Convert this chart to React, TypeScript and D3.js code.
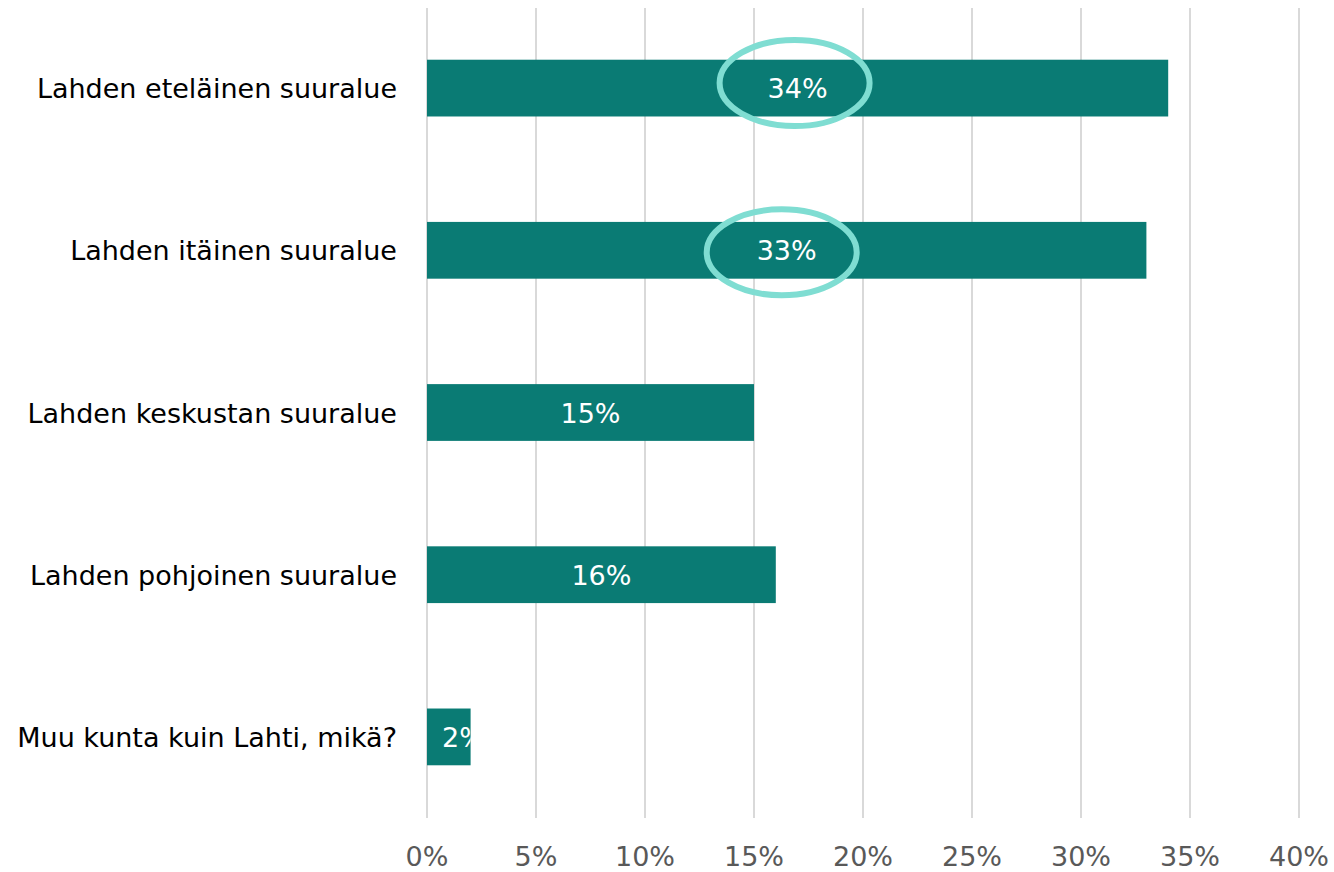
import React from "react";
import * as d3 from "d3";

const categories = [
  "Lahden eteläinen suuralue",
  "Lahden itäinen suuralue",
  "Lahden keskustan suuralue",
  "Lahden pohjoinen suuralue",
  "Muu kunta kuin Lahti, mikä?",
];
const values = [34, 33, 15, 16, 2];
const ticks = [0, 5, 10, 15, 20, 25, 30, 35, 40];
const highlighted = [0, 1];
const highlightOffset = [
  [-3, -5],
  [-5, 2],
];

const W = 1334;
const H = 872;
const FONT = "'DejaVu Sans', Verdana, sans-serif";

export default function App() {
  const x = d3.scaleLinear().domain([0, 40]).range([427, 1299]);
  const y = d3.scaleBand().domain(categories).range([7, 818]).paddingInner(0.65).paddingOuter(0.325);
  const bw = y.bandwidth();
  return (
    <svg width={W} height={H} style={{ position: "absolute", left: 0, top: 0, background: "#fff" }}>
      <defs>
        {categories.map((c, i) => (
          <clipPath id={`clip${i}`} key={c}>
            <rect x={x(0)} y={y(c)} width={x(values[i]) - x(0)} height={bw} />
          </clipPath>
        ))}
      </defs>
      {ticks.map((t) => (
        <line key={t} x1={x(t)} x2={x(t)} y1={8} y2={818} stroke="#D9D9D9" strokeWidth={2} />
      ))}
      {ticks.map((t) => (
        <text key={"l" + t} x={x(t)} y={866} textAnchor="middle" fontFamily={FONT} fontSize={27} fill="#595959">
          {t}%
        </text>
      ))}
      {categories.map((c, i) => {
        const w = x(values[i]) - x(0);
        const narrow = w < 70;
        return (
          <g key={c}>
            <rect x={x(0)} y={y(c)} width={w} height={bw} fill="#0A7B74" />
            <text x={397} y={y(c)! + bw / 2 + 10} textAnchor="end" fontFamily={FONT} fontSize={27} fill="#000">
              {c}
            </text>
            <g clipPath={`url(#clip${i})`}>
              <text
                x={narrow ? x(0) + 15 : (x(0) + x(values[i])) / 2}
                y={y(c)! + bw / 2 + 10}
                textAnchor={narrow ? "start" : "middle"}
                fontFamily={FONT}
                fontSize={27}
                fill="#fff"
              >
                {values[i]}%
              </text>
            </g>
          </g>
        );
      })}
      {highlighted.map((i, k) => (
        <ellipse
          key={"e" + i}
          cx={(x(0) + x(values[i])) / 2 + highlightOffset[k][0]}
          cy={y(categories[i])! + bw / 2 + highlightOffset[k][1]}
          rx={75}
          ry={43}
          fill="none"
          stroke="#7FDDD2"
          strokeWidth={6}
        />
      ))}
    </svg>
  );
}
